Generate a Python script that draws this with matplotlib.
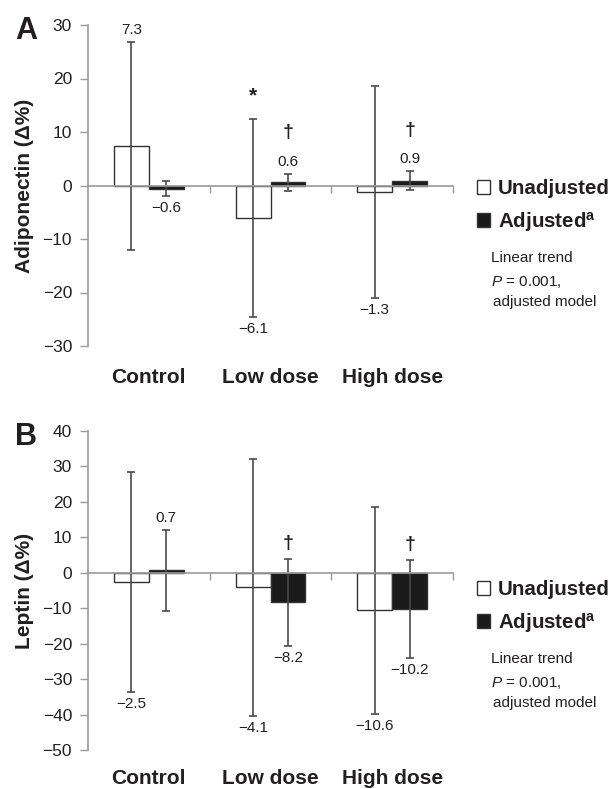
import matplotlib
matplotlib.use("Agg")
import matplotlib.pyplot as plt
import matplotlib.transforms as mtrans

plt.rcParams['font.family'] = ['Liberation Sans', 'DejaVu Sans']
plt.rcParams['mathtext.fontset'] = 'custom'
plt.rcParams['mathtext.rm'] = 'Liberation Sans'
plt.rcParams['mathtext.it'] = 'Liberation Sans:italic'
plt.rcParams['mathtext.bf'] = 'Liberation Sans:bold'

groups = ['Control', 'Low dose', 'High dose']

# panel A: adiponectin, % change with 95% CI
adipo_unadj = [7.3, -6.1, -1.3]
adipo_unadj_lo = [-12.1, -24.6, -21.0]
adipo_unadj_hi = [26.9, 12.5, 18.6]
adipo_adj = [-0.6, 0.6, 0.9]
adipo_adj_lo = [-2.0, -1.0, -0.9]
adipo_adj_hi = [0.9, 2.2, 2.7]
adipo_unadj_mark = ['', '*', '']
adipo_adj_mark = ['', '\u2020', '\u2020']

# panel B: leptin
leptin_unadj = [-2.5, -4.1, -10.6]
leptin_unadj_lo = [-33.7, -40.3, -39.9]
leptin_unadj_hi = [28.4, 31.9, 18.6]
leptin_adj = [0.7, -8.2, -10.2]
leptin_adj_lo = [-10.8, -20.5, -23.9]
leptin_adj_hi = [12.0, 3.9, 3.6]
leptin_unadj_mark = ['', '', '']
leptin_adj_mark = ['', '\u2020', '\u2020']

W, H = 613, 789
TXT = '#231f20'
GRID = '#9a9a9a'
ERR = '#4a4a4a'


def fx(px):
    return px / W


def fy(py):
    return 1 - py / H


def pt(px):
    return px * 0.72


def panel(fig, top, bottom, ylim, yticks, ylabel, letter, series, cat_y, leg_y):
    ax = fig.add_axes([fx(88), fy(bottom), fx(453) - fx(88), fy(top) - fy(bottom)])
    width = 0.287
    x = list(range(len(groups)))
    for k, (vals, lo, hi, marks, fc) in enumerate(series):
        pos = [i + (k - 1) * width + width / 2 for i in x]
        yerr = [[v - l for v, l in zip(vals, lo)], [h - v for v, h in zip(vals, hi)]]
        ax.bar(pos, vals, width=width, color=fc, edgecolor='#333333', linewidth=1.0, zorder=3,
               label=['Unadjusted', r'Adjusted$^{\mathbf{a}}$'][k])
        ax.errorbar(pos, vals, yerr=yerr, fmt='none', ecolor=ERR, elinewidth=1.2,
                    capsize=3.2, capthick=1.2, zorder=4)
        for p, v, l, h, m in zip(pos, vals, lo, hi, marks):
            txt = ('%.1f' % v).replace('-', '\u2212')
            if v >= 0:
                ax.annotate(txt, (p, h), xytext=(0, pt(12)), textcoords='offset points',
                            ha='center', va='center', fontsize=11, color=TXT)
                moff = 41
            else:
                ax.annotate(txt, (p, l), xytext=(0, -pt(12)), textcoords='offset points',
                            ha='center', va='center', fontsize=11, color=TXT)
                moff = 15
            if m:
                fs = 15 if m == '*' else 14
                if m == '*':
                    moff = 23
                ax.annotate(m, (p, h), xytext=(0, pt(moff)), textcoords='offset points',
                            ha='center', va='center', fontsize=fs, fontweight='bold', color=TXT)

    ax.set_xlim(-0.5, 2.5)
    ax.set_ylim(*ylim)
    ax.set_yticks(yticks)
    ax.set_yticklabels([str(t).replace('-', '\u2212') for t in yticks], fontsize=12.5, color=TXT)
    ax.tick_params(axis='y', length=5.5, width=1.0, color=GRID, pad=6)

    for s in ['top', 'right']:
        ax.spines[s].set_visible(False)
    ax.spines['left'].set_color(GRID)
    ax.spines['left'].set_linewidth(1.2)
    ax.spines['bottom'].set_position(('data', 0))
    ax.spines['bottom'].set_color(GRID)
    ax.spines['bottom'].set_linewidth(1.2)
    ax.spines['bottom'].set_zorder(5)
    ax.set_xticks(x)
    ax.set_xticklabels([])
    ax.set_xticks([0.5, 1.5, 2.5], minor=True)
    ax.tick_params(axis='x', which='major', length=0)
    ax.tick_params(axis='x', which='minor', length=5, width=1.0, color=GRID, direction='out')

    tr = mtrans.blended_transform_factory(ax.transData, fig.transFigure)
    for i, g in enumerate(groups):
        ax.text(i, fy(cat_y), g, transform=tr, ha='center', va='center',
                fontsize=15, fontweight='bold', color=TXT)

    fig.text(fx(25), fy((top + bottom) / 2), ylabel, rotation=90, ha='center', va='center',
             fontsize=15, fontweight='bold', color=TXT)
    fig.text(fx(26), fy(top + 6), letter, ha='center', va='center', fontsize=22,
             fontweight='bold', color=TXT)

    leg = ax.legend(loc='upper left', bbox_to_anchor=(fx(467), fy(leg_y)),
                    bbox_transform=fig.transFigure, frameon=False, borderpad=0,
                    handlelength=0.62, handleheight=0.62, handletextpad=0.38,
                    labelspacing=0.55, prop={'weight': 'bold', 'size': 14.8})
    for t in leg.get_texts():
        t.set_color(TXT)
    fig.text(fx(491), fy(leg_y + 89), 'Linear trend', ha='left', va='center', fontsize=11, color=TXT)
    fig.text(fx(491), fy(leg_y + 113), r'$\it{P}$ = 0.001,', ha='left', va='center', fontsize=11, color=TXT)
    fig.text(fx(493), fy(leg_y + 133), 'adjusted model', ha='left', va='center', fontsize=11, color=TXT)
    return ax


fig = plt.figure(figsize=(W / 100, H / 100), dpi=100)

panel(fig, 25, 346, (-30, 30), [-30, -20, -10, 0, 10, 20, 30], 'Adiponectin (\u0394%)', 'A',
      [(adipo_unadj, adipo_unadj_lo, adipo_unadj_hi, adipo_unadj_mark, 'white'),
       (adipo_adj, adipo_adj_lo, adipo_adj_hi, adipo_adj_mark, '#1a1a1a')],
      377, 169)

panel(fig, 430.7, 750.3, (-50, 40), [-50, -40, -30, -20, -10, 0, 10, 20, 30, 40], 'Leptin (\u0394%)', 'B',
      [(leptin_unadj, leptin_unadj_lo, leptin_unadj_hi, leptin_unadj_mark, 'white'),
       (leptin_adj, leptin_adj_lo, leptin_adj_hi, leptin_adj_mark, '#1a1a1a')],
      778, 570)

fig.savefig('out.png', dpi=100)
